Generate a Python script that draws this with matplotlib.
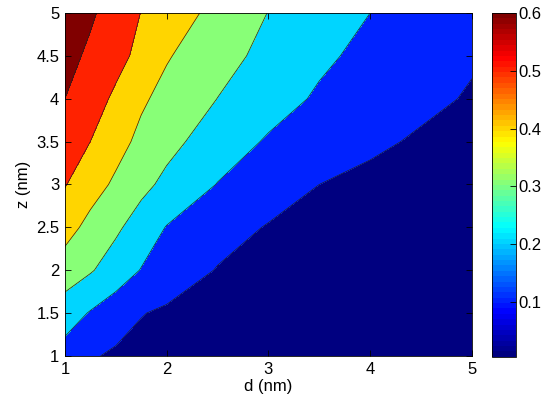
import numpy as np
import matplotlib
matplotlib.use("Agg")
import matplotlib.pyplot as plt
from matplotlib import cm, colors

plt.rcParams['font.family'] = ['Liberation Sans', 'DejaVu Sans']

# grid positions (nm)
d_vals = [1.0, 1.25, 1.5, 1.75, 2.0, 2.5, 3.0, 3.5, 4.0, 4.5, 5.0]
z_vals = [1.0, 1.5, 2.0, 2.5, 3.0, 3.5, 4.0, 4.5, 5.0]

# values, one row per z (bottom to top)
row_z10 = [0.160, 0.110, 0.085, 0.070, 0.060, 0.045, 0.035, 0.025, 0.018, 0.012, 0.008]
row_z15 = [0.248, 0.193, 0.148, 0.104, 0.085, 0.060, 0.045, 0.035, 0.025, 0.018, 0.012]
row_z20 = [0.354, 0.309, 0.252, 0.196, 0.159, 0.095, 0.070, 0.055, 0.040, 0.030, 0.020]
row_z25 = [0.437, 0.372, 0.317, 0.255, 0.196, 0.139, 0.094, 0.075, 0.060, 0.045, 0.035]
row_z30 = [0.505, 0.440, 0.384, 0.326, 0.277, 0.197, 0.149, 0.100, 0.080, 0.065, 0.050]
row_z35 = [0.553, 0.500, 0.434, 0.377, 0.329, 0.251, 0.190, 0.152, 0.115, 0.090, 0.075]
row_z40 = [0.600, 0.543, 0.483, 0.414, 0.371, 0.299, 0.239, 0.188, 0.153, 0.118, 0.093]
row_z45 = [0.633, 0.582, 0.531, 0.474, 0.408, 0.336, 0.273, 0.217, 0.176, 0.142, 0.108]
row_z50 = [0.660, 0.614, 0.556, 0.498, 0.454, 0.371, 0.298, 0.249, 0.200, 0.168, 0.133]

levels = [0.0, 0.1, 0.2, 0.3, 0.4, 0.5, 0.6, 0.7]
cbar_ticks = [0.1, 0.2, 0.3, 0.4, 0.5, 0.6]

D, Z = np.meshgrid(d_vals, z_vals)
V = np.array([row_z10, row_z15, row_z20, row_z25, row_z30,
              row_z35, row_z40, row_z45, row_z50])

# MATLAB's jet (slightly different from matplotlib's own)
mjet = colors.LinearSegmentedColormap('mjet', {
    'red':   [(0, 0, 0), (3/8, 0, 0), (5/8, 1, 1), (7/8, 1, 1), (1, 0.5, 0.5)],
    'green': [(0, 0, 0), (1/8, 0, 0), (3/8, 1, 1), (5/8, 1, 1), (7/8, 0, 0), (1, 0, 0)],
    'blue':  [(0, 0.5, 0.5), (1/8, 1, 1), (3/8, 1, 1), (5/8, 0, 0), (1, 0, 0)],
}, N=64)

# each band takes the colour of its lower level, like MATLAB contourf
norm = colors.Normalize(vmin=0.0, vmax=0.6)
band_colors = [mjet(norm(l)) for l in levels[:-1]]

fig = plt.figure(figsize=(5.5, 4.05), dpi=100)
ax = fig.add_axes([0.118, 0.121, 0.740, 0.847])
ax.contourf(D, Z, V, levels=levels, colors=band_colors)
ax.contour(D, Z, V, levels=levels[1:-1], colors='#222222', linewidths=0.5)

ax.set_xlim(1, 5)
ax.set_ylim(1, 5)
ax.set_xticks([1, 2, 3, 4, 5])
ax.set_yticks([1, 1.5, 2, 2.5, 3, 3.5, 4, 4.5, 5])
ax.set_yticklabels(['1', '1.5', '2', '2.5', '3', '3.5', '4', '4.5', '5'])
ax.tick_params(direction='in', length=4, width=0.6, labelsize=12,
               top=True, right=True, pad=4)
for s in ax.spines.values():
    s.set_linewidth(0.6)
ax.set_xlabel('d (nm)', fontsize=12, labelpad=2)
ax.set_ylabel('z (nm)', fontsize=12, labelpad=4)

# colorbar
cax = fig.add_axes([0.8945, 0.119, 0.0436, 0.849])
sm = cm.ScalarMappable(norm=colors.Normalize(vmin=0.005, vmax=0.6), cmap=mjet)
cb = fig.colorbar(sm, cax=cax, ticks=cbar_ticks)
cb.ax.set_yticklabels(['0.1', '0.2', '0.3', '0.4', '0.5', '0.6'])
cb.ax.tick_params(direction='in', length=4, width=0.6, labelsize=12, pad=2)
cb.outline.set_linewidth(0.6)

fig.savefig('out.png', dpi=100)
